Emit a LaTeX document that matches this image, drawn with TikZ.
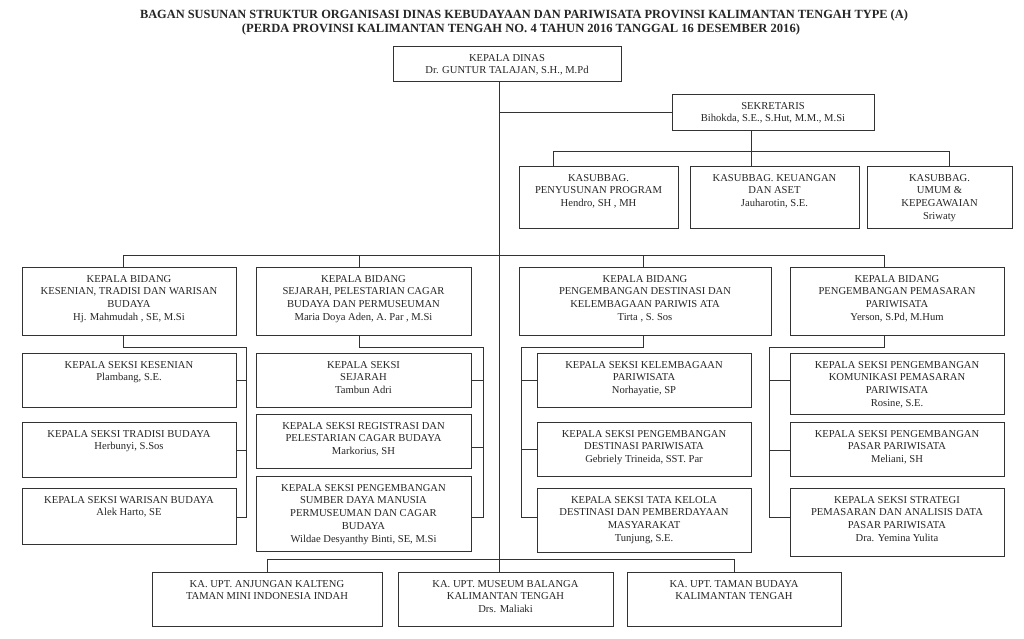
\documentclass[tikz,border=0pt]{standalone}
\usepackage{fontspec}
\usepackage{graphicx}
\setmainfont{Liberation Serif}
\newcommand{\myBody}{\fontsize{10.6}{12.8}\selectfont}
\newcommand{\myTitle}{\fontsize{12.5}{14}\selectfont\bfseries}
\definecolor{linec}{HTML}{333333}
\definecolor{textc}{HTML}{262626}
\tikzset{
  obox/.style={draw=linec, line width=0.8pt, inner sep=0pt, outer sep=0pt, fill=white},
  otxt/.style={align=center, inner sep=0pt, font=\myBody, text=textc},
  conn/.style={draw=linec, line width=0.8pt},
  ttl/.style={inner sep=0pt, font=\myTitle, text=textc}
}
\newcommand{\mkbox}[6]{%
  \node[obox, minimum width={#4-#2}, minimum height={#5-#3}, anchor=north west] (#1) at (#2,#3) {};
  \node[otxt, anchor=north] (#1t) at ([yshift=-6pt]#1.north) {\strut #6};
}
\begin{document}
\begin{tikzpicture}[x=1pt,y=-1pt]
\fill[white] (0,0) rectangle (1024,638);
\useasboundingbox (0,0) rectangle (1024,638);

% title
\node[ttl] (T1) at (524,15) {\resizebox{768pt}{\height}{BAGAN SUSUNAN STRUKTUR ORGANISASI DINAS KEBUDAYAAN DAN PARIWISATA PROVINSI KALIMANTAN TENGAH TYPE (A)}};
\node[ttl] (T2) at (521,29.5) {\resizebox{558pt}{\height}{(PERDA PROVINSI KALIMANTAN TENGAH NO. 4 TAHUN 2016 TANGGAL 16 DESEMBER 2016)}};

% coordinates for connectors
\coordinate (tx) at (499,0);
\coordinate (sx) at (751,151);
\coordinate (k1) at (553,151);
\coordinate (k3) at (949,151);
\coordinate (b1) at (123,255);
\coordinate (b2) at (359,255);
\coordinate (b3) at (643,255);
\coordinate (b4) at (884,255);
\coordinate (u1) at (267,559);
\coordinate (u3) at (734,559);

% boxes
\mkbox{KD}{393}{46}{621}{81}{KEPALA DINAS\\Dr. GUNTUR TALAJAN, S.H., M.Pd}
\mkbox{SEK}{672}{94}{874}{130}{SEKRETARIS\\Bihokda, S.E., S.Hut, M.M., M.Si}
\mkbox{KS1}{519}{166}{678}{228}{KASUBBAG.\\PENYUSUNAN PROGRAM\\Hendro, SH , MH}
\mkbox{KS2}{690}{166}{859}{228}{KASUBBAG. KEUANGAN\\DAN ASET\\Jauharotin, S.E.}
\mkbox{KS3}{867}{166}{1012}{228}{KASUBBAG.\\UMUM \&\\KEPEGAWAIAN\\Sriwaty}

\mkbox{B1}{22}{267}{236}{335}{KEPALA BIDANG\\KESENIAN, TRADISI DAN WARISAN\\BUDAYA\\Hj. Mahmudah , SE, M.Si}
\mkbox{B2}{256}{267}{471}{335}{KEPALA BIDANG\\SEJARAH, PELESTARIAN CAGAR\\BUDAYA DAN PERMUSEUMAN\\Maria Doya Aden, A. Par , M.Si}
\mkbox{B3}{519}{267}{771}{335}{KEPALA BIDANG\\PENGEMBANGAN DESTINASI DAN\\KELEMBAGAAN PARIWIS ATA\\Tirta , S. Sos}
\mkbox{B4}{790}{267}{1004}{335}{KEPALA BIDANG\\PENGEMBANGAN PEMASARAN\\PARIWISATA\\Yerson, S.Pd, M.Hum}

\mkbox{S11}{22}{353}{236}{407}{KEPALA SEKSI KESENIAN\\Plambang, S.E.}
\mkbox{S12}{22}{422}{236}{477}{KEPALA SEKSI TRADISI BUDAYA\\Herbunyi, S.Sos}
\mkbox{S13}{22}{488}{236}{544}{KEPALA SEKSI WARISAN BUDAYA\\Alek Harto, SE}

\mkbox{S21}{256}{353}{471}{407}{KEPALA SEKSI\\SEJARAH\\Tambun Adri}
\mkbox{S22}{256}{414}{471}{468}{KEPALA SEKSI REGISTRASI DAN\\PELESTARIAN CAGAR BUDAYA\\Markorius, SH}
\mkbox{S23}{256}{476}{471}{551}{KEPALA SEKSI PENGEMBANGAN\\SUMBER DAYA MANUSIA\\PERMUSEUMAN DAN CAGAR\\BUDAYA\\Wildae Desyanthy Binti, SE, M.Si}

\mkbox{S31}{537}{353}{751}{407}{KEPALA SEKSI KELEMBAGAAN\\PARIWISATA\\Norhayatie, SP}
\mkbox{S32}{537}{422}{751}{476}{KEPALA SEKSI PENGEMBANGAN\\DESTINASI PARIWISATA\\Gebriely Trineida, SST. Par}
\mkbox{S33}{537}{488}{751}{552}{KEPALA SEKSI TATA KELOLA\\DESTINASI DAN PEMBERDAYAAN\\MASYARAKAT\\Tunjung, S.E.}

\mkbox{S41}{790}{353}{1004}{414}{KEPALA SEKSI PENGEMBANGAN\\KOMUNIKASI PEMASARAN\\PARIWISATA\\Rosine, S.E.}
\mkbox{S42}{790}{422}{1004}{476}{KEPALA SEKSI PENGEMBANGAN\\PASAR PARIWISATA\\Meliani, SH}
\mkbox{S43}{790}{488}{1004}{556}{KEPALA SEKSI STRATEGI\\PEMASARAN DAN ANALISIS DATA\\PASAR PARIWISATA\\Dra. Yemina Yulita}

\mkbox{U1}{152}{572}{382}{626}{KA. UPT. ANJUNGAN KALTENG\\TAMAN MINI INDONESIA INDAH}
\mkbox{U2}{398}{572}{613}{626}{KA. UPT. MUSEUM BALANGA\\KALIMANTAN TENGAH\\Drs. Maliaki}
\mkbox{U3}{627}{572}{841}{626}{KA. UPT. TAMAN BUDAYA\\KALIMANTAN TENGAH}

% main trunk
\draw[conn] (KD.south -| tx) -- (U2.north -| tx);
\draw[conn] (tx |- SEK.west) -- (SEK.west);
% sekretariat
\draw[conn] (SEK.south -| sx) -- (sx) -- (KS2.north -| sx);
\draw[conn] (KS1.north -| k1) -- (k1) -- (k3) -- (KS3.north -| k3);
% bidang bus
\draw[conn] (B1.north -| b1) -- (b1) -- (b4) -- (B4.north -| b4);
\draw[conn] (b2) -- (B2.north -| b2);
\draw[conn] (b3) -- (B3.north -| b3);

% column 1
\coordinate (c1a) at (123,347); \coordinate (c1b) at (246,347);
\coordinate (c1t1) at (246,380); \coordinate (c1t2) at (246,450); \coordinate (c1t3) at (246,517);
\draw[conn] (B1.south -| c1a) -- (c1a) -- (c1b) -- (c1t3) -- (S13.east |- c1t3);
\draw[conn] (c1t1) -- (S11.east |- c1t1);
\draw[conn] (c1t2) -- (S12.east |- c1t2);

% column 2
\coordinate (c2a) at (359,347); \coordinate (c2b) at (483,347);
\coordinate (c2t1) at (483,380); \coordinate (c2t2) at (483,447); \coordinate (c2t3) at (483,517);
\draw[conn] (B2.south -| c2a) -- (c2a) -- (c2b) -- (c2t3) -- (S23.east |- c2t3);
\draw[conn] (c2t1) -- (S21.east |- c2t1);
\draw[conn] (c2t2) -- (S22.east |- c2t2);

% column 3
\coordinate (c3a) at (643,347); \coordinate (c3b) at (521,347);
\coordinate (c3t1) at (521,380); \coordinate (c3t2) at (521,449); \coordinate (c3t3) at (521,517);
\draw[conn] (B3.south -| c3a) -- (c3a) -- (c3b) -- (c3t3) -- (S33.west |- c3t3);
\draw[conn] (c3t1) -- (S31.west |- c3t1);
\draw[conn] (c3t2) -- (S32.west |- c3t2);

% column 4
\coordinate (c4a) at (884,347); \coordinate (c4b) at (769,347);
\coordinate (c4t1) at (769,380); \coordinate (c4t2) at (769,450); \coordinate (c4t3) at (769,517);
\draw[conn] (B4.south -| c4a) -- (c4a) -- (c4b) -- (c4t3) -- (S43.west |- c4t3);
\draw[conn] (c4t1) -- (S41.west |- c4t1);
\draw[conn] (c4t2) -- (S42.west |- c4t2);

% UPT bus
\draw[conn] (U1.north -| u1) -- (u1) -- (u3) -- (U3.north -| u3);
\end{tikzpicture}
\end{document}
